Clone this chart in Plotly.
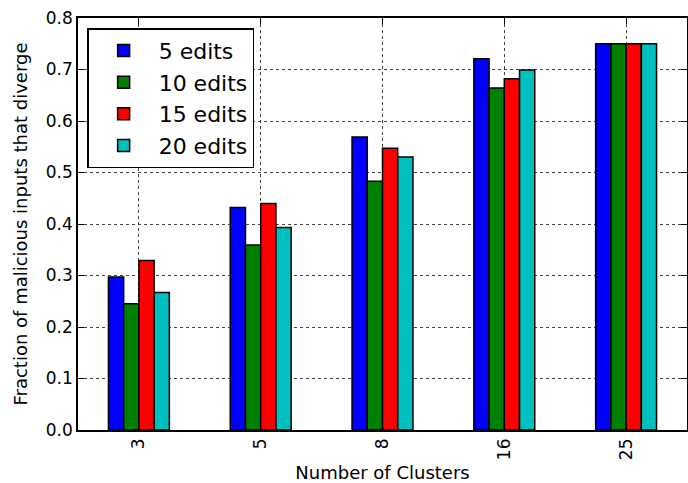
import plotly.graph_objects as go

categories = ["3", "5", "8", "16", "25"]
series_names = ["5 edits", "10 edits", "15 edits", "20 edits"]
edits5 = [0.297, 0.432, 0.569, 0.721, 0.750]
edits10 = [0.245, 0.359, 0.483, 0.664, 0.750]
edits15 = [0.329, 0.440, 0.547, 0.682, 0.750]
edits20 = [0.267, 0.393, 0.530, 0.699, 0.750]
colors = ["#0000ff", "#008000", "#ff0000", "#00bfbf"]
y_ticks = [0.0, 0.1, 0.2, 0.3, 0.4, 0.5, 0.6, 0.7, 0.8]

font = "DejaVu Sans"
fig = go.Figure()
for name, vals, c in zip(series_names, [edits5, edits10, edits15, edits20], colors):
    fig.add_trace(go.Bar(x=categories, y=vals, name=name, marker=dict(color=c, line=dict(color="black", width=1.5))))

axis_common = dict(showline=True, linecolor="black", linewidth=1.5, mirror="ticks",
                   ticks="inside", ticklen=6, tickcolor="black", tickwidth=1,
                   showgrid=True, gridcolor="#444", griddash="dot", gridwidth=1,
                   zeroline=False, automargin=False,
                   tickfont=dict(family=font, size=17, color="black"))

fig.update_layout(
    width=688, height=483,
    margin=dict(l=78, r=1, t=18, b=53),
    paper_bgcolor="white", plot_bgcolor="white",
    barmode="group", bargap=0.5, bargroupgap=0,
    font=dict(family=font, color="black"),
    xaxis=dict(**axis_common, type="category", range=[-0.5, 4.5], tickangle=-90,
               title=dict(text="Number of Clusters", font=dict(family=font, size=18, color="black"), standoff=14)),
    yaxis=dict(**axis_common, range=[0, 0.8], tickvals=y_ticks, tickformat=".1f",
               title=dict(text="Fraction of malicious inputs that diverge", font=dict(family=font, size=18, color="black"), standoff=14)),
    legend=dict(x=0.015, y=0.975, xanchor="left", yanchor="top", bordercolor="black", borderwidth=1.5,
                bgcolor="white", font=dict(family=font, size=22, color="black"), tracegroupgap=6,
                itemwidth=60),
)
fig.write_html("out.html", post_script="document.body.style.margin='0';",
               config={"displayModeBar": False})
